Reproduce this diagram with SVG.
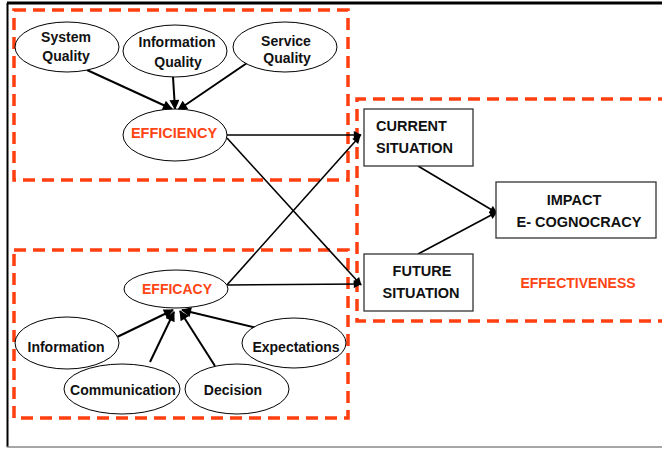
<svg xmlns="http://www.w3.org/2000/svg" width="662" height="449" viewBox="0 0 662 449">
<defs>
<style>
.t{font-family:"Liberation Sans",Arial,sans-serif;font-weight:bold;font-size:14px;fill:#111;text-anchor:middle}
.o{fill:#FF4513}
.e{fill:#fff;stroke:#000;stroke-width:1}
.b{fill:#fff;stroke:#333;stroke-width:1.3}
.d{fill:none;stroke:#FF3F10;stroke-width:3.5;stroke-dasharray:12 7}
.c{fill:none;stroke:#000;stroke-width:2}
.c2{fill:none;stroke:#000;stroke-width:1.6}
</style>
<marker id="ah" viewBox="0 0 10 10" refX="9" refY="5" markerWidth="12" markerHeight="10" markerUnits="userSpaceOnUse" orient="auto">
<path d="M0,0 L10,5 L0,10 z" fill="#000"/>
</marker>
<marker id="ah2" viewBox="0 0 10 10" refX="9" refY="5" markerWidth="9" markerHeight="8" markerUnits="userSpaceOnUse" orient="auto">
<path d="M0,0 L10,5 L0,10 z" fill="#000"/>
</marker>
</defs>
<rect width="662" height="449" fill="#fff"/>
<g id="frame">
<line x1="7" y1="3" x2="662" y2="3" stroke="#000" stroke-width="3"/>
<line x1="7.5" y1="3" x2="7.5" y2="447" stroke="#000" stroke-width="2"/>
<line x1="7" y1="447" x2="662" y2="447" stroke="#888" stroke-width="1.5"/>
</g>
<g id="groups">
<rect class="d" x="14" y="10" width="334" height="170"/>
<rect class="d" x="14" y="250" width="334" height="168"/>
<path class="d" d="M670,99 H357 V321 H670"/>
<text class="t o" x="578" y="288">EFFECTIVENESS</text>
</g>
<g id="connectors">
<line class="c" x1="87" y1="70" x2="172" y2="109" marker-end="url(#ah)"/>
<line class="c" x1="173" y1="77" x2="175" y2="109" marker-end="url(#ah)"/>
<line class="c" x1="247" y1="63" x2="178" y2="110" marker-end="url(#ah)"/>
<line class="c2" x1="227" y1="135" x2="361" y2="135" marker-end="url(#ah2)"/>
<line class="c2" x1="227" y1="138" x2="361" y2="285" marker-end="url(#ah2)"/>
<line class="c2" x1="228" y1="285" x2="361" y2="284" marker-end="url(#ah2)"/>
<line class="c2" x1="226" y1="286" x2="360" y2="136" marker-end="url(#ah2)"/>
<line class="c2" x1="418" y1="166" x2="497" y2="213" marker-end="url(#ah2)"/>
<line class="c2" x1="418" y1="254" x2="497" y2="212" marker-end="url(#ah2)"/>
<line class="c" x1="115" y1="338" x2="173" y2="310" marker-end="url(#ah)"/>
<line class="c" x1="150" y1="362" x2="174" y2="312" marker-end="url(#ah)"/>
<line class="c" x1="215" y1="366" x2="180" y2="311" marker-end="url(#ah)"/>
<line class="c" x1="257" y1="328" x2="182" y2="310" marker-end="url(#ah)"/>
</g>
<g id="system-quality">
<ellipse class="e" cx="67" cy="47" rx="52" ry="25"/>
<text class="t" x="66" y="42">System</text>
<text class="t" x="66" y="61">Quality</text>
</g>
<g id="information-quality">
<ellipse class="e" cx="175" cy="51" rx="52" ry="26"/>
<text class="t" x="177" y="47">Information</text>
<text class="t" x="178" y="67">Quality</text>
</g>
<g id="service-quality">
<ellipse class="e" cx="285" cy="47" rx="52" ry="25"/>
<text class="t" x="286" y="46">Service</text>
<text class="t" x="287" y="63">Quality</text>
</g>
<g id="efficiency">
<ellipse class="e" cx="175" cy="135" rx="52" ry="26"/>
<text class="t o" x="174" y="138" style="font-size:14.5px">EFFICIENCY</text>
</g>
<g id="efficacy">
<ellipse class="e" cx="176" cy="289" rx="52" ry="19"/>
<text class="t o" x="177" y="294">EFFICACY</text>
</g>
<g id="information">
<ellipse class="e" cx="67" cy="343" rx="52" ry="26"/>
<text class="t" x="66" y="352">Information</text>
</g>
<g id="communication">
<ellipse class="e" cx="122" cy="389" rx="58" ry="25"/>
<text class="t" x="123" y="395">Communication</text>
</g>
<g id="decision">
<ellipse class="e" cx="237" cy="389" rx="52" ry="25"/>
<text class="t" x="233" y="395">Decision</text>
</g>
<g id="expectations">
<ellipse class="e" cx="294" cy="343" rx="52" ry="25"/>
<text class="t" x="296" y="352">Expectations</text>
</g>
<g id="current-situation">
<rect class="b" x="364" y="109" width="109" height="57"/>
<text class="t" x="376" y="131" style="text-anchor:start;font-size:14.5px">CURRENT</text>
<text class="t" x="376" y="153" style="text-anchor:start;font-size:14.5px">SITUATION</text>
</g>
<g id="future-situation">
<rect class="b" x="364" y="254" width="109" height="57"/>
<text class="t" x="422" y="276" style="font-size:14.5px">FUTURE</text>
<text class="t" x="421" y="298" style="font-size:14.5px">SITUATION</text>
</g>
<g id="impact">
<rect class="b" x="496" y="182" width="160" height="56"/>
<text class="t" x="574" y="205" style="font-size:14.5px">IMPACT</text>
<text class="t" x="579" y="227" style="font-size:14.5px">E- COGNOCRACY</text>
</g>
</svg>
